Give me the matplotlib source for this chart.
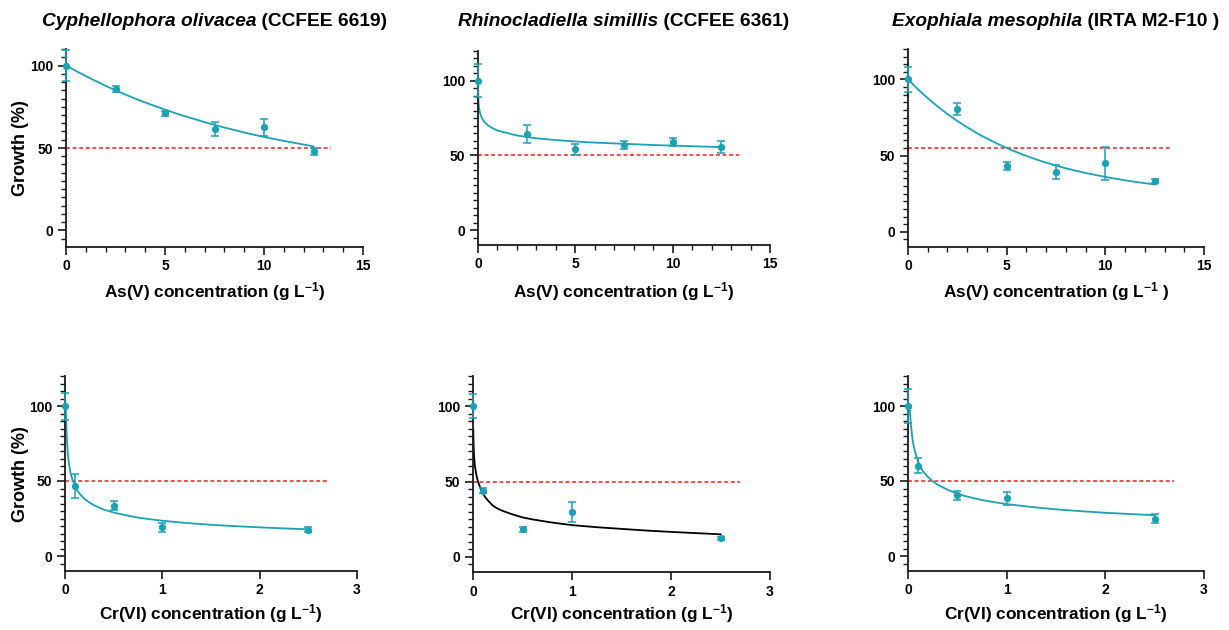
import numpy as np
import matplotlib
matplotlib.use('Agg')
import matplotlib.pyplot as plt
from matplotlib.ticker import MultipleLocator, FixedLocator

plt.rcParams['font.family'] = ['Liberation Sans', 'DejaVu Sans']
plt.rcParams['font.weight'] = 'bold'
plt.rcParams['mathtext.fontset'] = 'custom'
plt.rcParams['mathtext.rm'] = 'Liberation Sans:bold'
plt.rcParams['mathtext.bf'] = 'Liberation Sans:bold'
plt.rcParams['mathtext.it'] = 'Liberation Sans:bold:italic'
plt.rcParams['mathtext.default'] = 'bf'

TEAL = '#1aa2b6'
RED = '#ff4b4b'
W, H = 1229, 630

# ---------------- data ----------------
species = ['Cyphellophora olivacea', 'Rhinocladiella simillis', 'Exophiala mesophila']
strains = ['(CCFEE 6619)', '(CCFEE 6361)', '(IRTA M2-F10 )']

# As(V) assays
as_x = [0, 2.5, 5, 7.5, 10, 12.5]
as_growth = [
    [100, 85.5, 71, 61.5, 62.5, 48],
    [100, 64.5, 54, 56.8, 59, 55.9],
    [100, 80.5, 43.3, 39.4, 44.9, 33.3],
]
as_err = [
    [9.5, 1.8, 1.5, 4, 5, 2.2],
    [11, 6, 4, 2.8, 2.7, 4],
    [8, 4, 2.5, 4.5, 11, 1.3],
]
as_fit_x = [
    [0, 0.5, 1, 1.5, 2, 2.5, 3, 3.5, 4, 4.5, 5, 5.5, 6, 6.5, 7, 7.5, 8, 8.5, 9, 9.5,
     10, 10.5, 11, 11.5, 12, 12.5],
    [0.01, 0.02, 0.03, 0.05, 0.1, 0.2, 0.3, 0.5, 0.75, 1, 1.5, 2, 2.5, 3, 4, 5, 6,
     7.5, 9, 10, 11, 12.5],
    [0, 0.5, 1, 1.5, 2, 2.5, 3, 3.5, 4, 4.5, 5, 5.5, 6, 6.5, 7, 7.5, 8, 8.5, 9, 9.5,
     10, 10.5, 11, 11.5, 12, 12.5],
]
as_fit_y = [
    [100, 96.7, 93.6, 90.6, 87.7, 85.0, 82.4, 79.9, 77.6, 75.4, 73.3, 71.2, 69.3,
     67.5, 65.7, 64.0, 62.4, 60.9, 59.4, 58.0, 56.7, 55.5, 54.3, 53.2, 52.1, 51.0],
    [92.6, 87.9, 85.0, 82.0, 78.7, 75.0, 72.9, 70.3, 68.3, 66.7, 65.0, 63.4, 62.4,
     61.5, 60.3, 59.4, 58.6, 57.8, 57.0, 56.6, 56.2, 55.6],
    [100, 93.6, 87.7, 82.3, 77.3, 72.7, 68.6, 64.7, 61.2, 58.0, 55.0, 52.3, 49.8,
     47.5, 45.4, 43.5, 41.7, 40.1, 38.6, 37.3, 36.0, 34.9, 33.8, 32.8, 31.9, 31.1],
]
as_cut = [50, 50.5, 55]

# Cr(VI) assays
cr_x = [0, 0.1, 0.5, 1, 2.5]
cr_growth = [
    [100, 47, 33.6, 19.2, 17.6],
    [100, 44, 18.2, 29.7, 12.3],
    [100, 60.3, 40.4, 38.4, 24.8],
]
cr_err = [
    [9, 8, 3, 3, 1.5],
    [8, 1.5, 1.5, 6.8, 1],
    [11.3, 5, 3, 4.5, 3],
]
cr_fit_x = [
    [0.008, 0.01, 0.015, 0.02, 0.03, 0.04, 0.05, 0.06, 0.075, 0.1, 0.125, 0.15, 0.2,
     0.25, 0.3, 0.4, 0.5, 0.6, 0.75, 0.9, 1, 1.25, 1.5, 1.75, 2, 2.25, 2.5],
    [0.003, 0.006, 0.01, 0.015, 0.02, 0.035, 0.05, 0.075, 0.1, 0.125, 0.15, 0.2,
     0.25, 0.3, 0.4, 0.5, 0.6, 0.75, 0.9, 1, 1.25, 1.5, 1.75, 2, 2.25, 2.5],
    [0.02, 0.025, 0.03, 0.04, 0.05, 0.06, 0.075, 0.1, 0.125, 0.15, 0.2, 0.25, 0.3,
     0.4, 0.5, 0.6, 0.75, 0.9, 1, 1.25, 1.5, 1.75, 2, 2.25, 2.5],
]
cr_fit_y = [
    [100, 94, 83.6, 76.4, 67.5, 61.8, 57.9, 54.5, 51.4, 47, 43.9, 41.6, 38.1, 35.7,
     33.8, 30.9, 29, 27.5, 25.6, 24.3, 23.5, 22.0, 20.8, 19.9, 19.1, 18.4, 17.8],
    [84, 74, 68, 63.5, 60, 54, 50, 45.5, 42, 39.5, 37.5, 34, 32, 30.5, 28.2, 26.2,
     24.9, 23.3, 21.9, 21.1, 19.7, 18.6, 17.5, 16.6, 15.8, 15],
    [96.8, 91.6, 86.9, 80.8, 76.2, 72.6, 68.6, 63.4, 59.6, 56.6, 52.8, 49.9, 47.5,
     44.2, 41.5, 39.6, 37.3, 35.6, 34.6, 32.7, 31.1, 29.9, 28.8, 28.0, 27.2],
]
cr_fit_color = [TEAL, 'black', TEAL]
cr_cut = [50, 50, 50]

# axes boxes in pixels: x0, x1, ytop, ybottom
top_boxes = [(66, 363, 49, 247), (478, 770, 51, 245), (908, 1204, 49, 247)]
bot_boxes = [(65, 357, 376, 571), (473, 770, 376, 572), (908, 1204, 376, 571)]
top_ylim = [(-10, 110), (-10, 120), (-10, 120)]

fig = plt.figure(figsize=(W / 100, H / 100), dpi=100)


def px_axes(box):
    x0, x1, yt, yb = box
    return fig.add_axes([x0 / W, 1 - yb / H, (x1 - x0) / W, (yb - yt) / H])


def style_axes(ax, xmax, xmajor, xminor, ylim):
    ax.set_xlim(0, xmax)
    ax.set_ylim(*ylim)
    for s in ['top', 'right']:
        ax.spines[s].set_visible(False)
    for s in ['left', 'bottom']:
        ax.spines[s].set_linewidth(1.3)
        ax.spines[s].set_color('#1a1a1a')
    ax.xaxis.set_major_locator(MultipleLocator(xmajor))
    if xminor:
        ax.xaxis.set_minor_locator(MultipleLocator(xminor))
    ax.yaxis.set_major_locator(FixedLocator([0, 50, 100]))
    ax.yaxis.set_minor_locator(FixedLocator(np.arange(-5, ylim[1] + 1, 5)))
    ax.tick_params(which='major', direction='out', length=6, width=1.2,
                   color='#1a1a1a', labelsize=10, pad=3)
    ax.tick_params(which='minor', direction='out', length=3.5, width=1.0,
                   color='#1a1a1a')
    for lab in ax.get_xticklabels() + ax.get_yticklabels():
        lab.set_fontweight('bold')


def draw_panel(ax, x, y, err, fx, fy, fcolor, cut, cut_end):
    ax.plot([0, cut_end], [cut, cut], color=RED, lw=1.4, dashes=(2, 1.4), zorder=1)
    ax.plot(fx, fy, color=fcolor, lw=1.3, zorder=2, clip_on=False)
    ax.errorbar(x, y, yerr=err, fmt='o', ms=4.2, color=TEAL, ecolor=TEAL,
                elinewidth=1.1, capsize=3, capthick=1.1, zorder=3, clip_on=False)


fig.canvas.draw()
renderer = fig.canvas.get_renderer()


def put_title(box, sp, st):
    cx = (box[0] + box[1]) / 2
    y = 1 - 26 / H
    t1 = fig.text(0, y, sp, fontsize=13.8, fontstyle='italic', fontweight='bold', va='baseline')
    t2 = fig.text(0, y, ' ' + st, fontsize=13.8, fontweight='bold', va='baseline')
    w1 = t1.get_window_extent(renderer).width
    w2 = t2.get_window_extent(renderer).width
    left = cx - (w1 + w2) / 2
    t1.set_x(left / W)
    t2.set_x((left + w1) / W)


for i in range(3):
    ax = px_axes(top_boxes[i])
    style_axes(ax, 15, 5, 1, top_ylim[i])
    draw_panel(ax, as_x, as_growth[i], as_err[i], as_fit_x[i], as_fit_y[i],
               TEAL, as_cut[i], 13.4)
    put_title(top_boxes[i], species[i], strains[i])
    cx = (top_boxes[i][0] + top_boxes[i][1]) / 2
    lab = r'As(V) concentration (g L$^{-1}$)' if i < 2 else r'As(V) concentration (g L$^{-1}$ )'
    fig.text(cx / W, 1 - 297 / H, lab, fontsize=12.4, fontweight='bold',
             ha='center', va='baseline')

    ax = px_axes(bot_boxes[i])
    style_axes(ax, 3, 1, None, (-10, 120))
    draw_panel(ax, cr_x, cr_growth[i], cr_err[i], cr_fit_x[i], cr_fit_y[i],
               cr_fit_color[i], cr_cut[i], 2.7)
    cx = (bot_boxes[i][0] + bot_boxes[i][1]) / 2
    fig.text(cx / W, 1 - 619 / H, r'Cr(VI) concentration (g L$^{-1}$)', fontsize=12.4,
             fontweight='bold', ha='center', va='baseline')

fig.text(21 / W, 1 - 148 / H, 'Growth (%)', fontsize=13, fontweight='bold',
         rotation=90, ha='center', va='center')
fig.text(21 / W, 1 - 474 / H, 'Growth (%)', fontsize=13, fontweight='bold',
         rotation=90, ha='center', va='center')

fig.savefig('out.png', dpi=100)
